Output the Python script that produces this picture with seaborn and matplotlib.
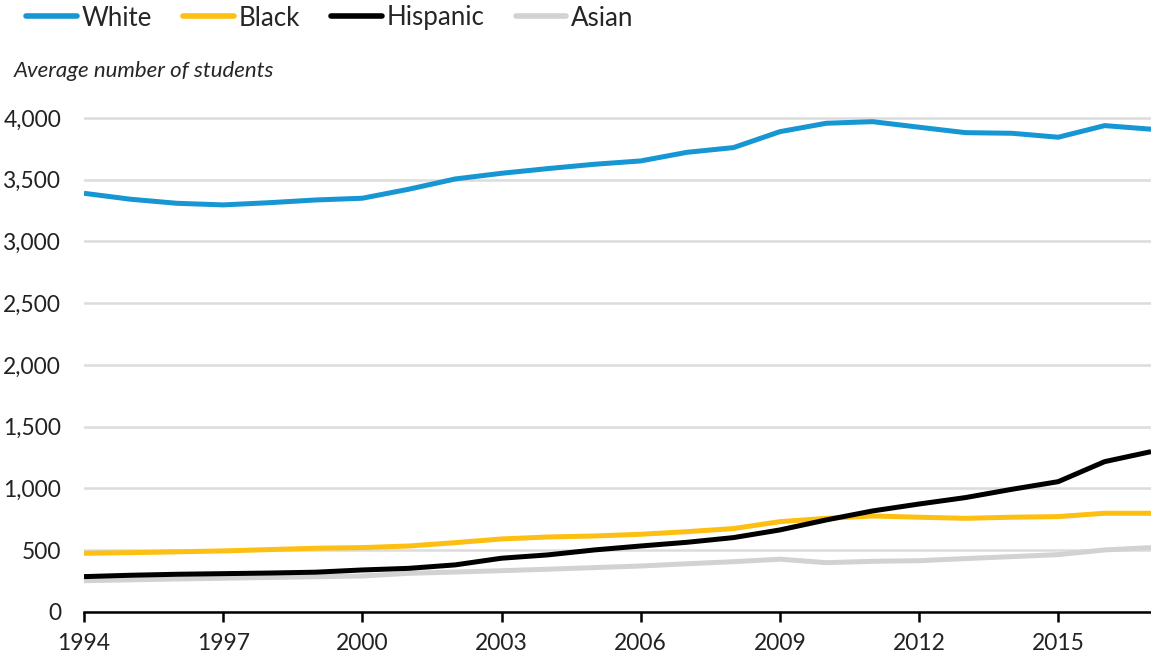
import pandas as pd
import matplotlib.pyplot as plt
import matplotlib.ticker as mticker
import seaborn as sns

# Average number of students by race/ethnicity, 1994-2017
years = list(range(1994, 2018))
white = [3390, 3342, 3309, 3296, 3314, 3336, 3350, 3423, 3506, 3552, 3590, 3625,
         3652, 3722, 3760, 3889, 3957, 3970, 3925, 3881, 3876, 3844, 3938, 3909]
black = [475, 480, 487, 494, 505, 516, 521, 534, 561, 591, 607, 615,
         629, 650, 675, 731, 758, 777, 767, 758, 767, 772, 799, 799]
hispanic = [286, 297, 305, 310, 315, 322, 340, 353, 381, 435, 462, 502,
            534, 564, 602, 664, 745, 818, 874, 926, 993, 1055, 1217, 1298]
asian = [253, 260, 267, 273, 279, 285, 291, 313, 323, 334, 346, 359,
         372, 390, 407, 427, 399, 410, 415, 432, 448, 464, 502, 521]

groups = ['White', 'Black', 'Hispanic', 'Asian']
colores = {'White': '#1696d2', 'Black': '#fdbf11', 'Hispanic': '#000000', 'Asian': '#d2d2d2'}

df = pd.DataFrame({'Year': years, 'White': white, 'Black': black,
                   'Hispanic': hispanic, 'Asian': asian})
df_long = df.melt(id_vars='Year', var_name='Group', value_name='Students')

sns.set_style('white')
plt.rcParams['font.family'] = ['Lato', 'DejaVu Sans']

fig = plt.figure(figsize=(11.51, 6.58), dpi=100)
ax = fig.add_axes([0.073, 0.070, 0.927, 0.7695])

sns.lineplot(data=df_long, x='Year', y='Students', hue='Group', hue_order=groups,
             palette=colores, linewidth=3.6, ax=ax)

# Asian line sits under the others
for line, z in zip(ax.get_lines()[:4], [3, 4, 5, 2]):
    line.set_zorder(z)
    line.set_solid_capstyle('butt')

handles, labels = ax.get_legend_handles_labels()
ax.get_legend().remove()
leg = fig.legend(handles, labels, loc='center left', bbox_to_anchor=(0.023, 1 - 18 / 658),
                 ncol=4, frameon=False, fontsize=18.6, handlelength=1.95, handletextpad=0.2,
                 columnspacing=1.2, borderaxespad=0, borderpad=0)
for h in leg.legend_handles:
    h.set_linewidth(4)
    h.set_solid_capstyle('round')

fig.text(0.012, 1 - 71 / 658, 'Average number of students', fontsize=16,
         style='italic', va='center', ha='left')

ax.set_xlim(1994, 2017)
ax.set_ylim(0, 4100)
ax.set_xticks(list(range(1994, 2016, 3)))
ax.set_yticks(list(range(0, 4001, 500)))
ax.yaxis.set_major_formatter(mticker.FuncFormatter(lambda v, p: f'{int(v):,}'))
ax.set_xlabel('')
ax.set_ylabel('')

ax.grid(axis='y', color='#dcdcdc', linewidth=1.8)
ax.grid(axis='x', visible=False)
ax.set_axisbelow(True)
for s in ['top', 'right', 'left']:
    ax.spines[s].set_visible(False)
ax.spines['bottom'].set_color('black')
ax.spines['bottom'].set_linewidth(1.8)
ax.spines['bottom'].set_zorder(6)

ax.tick_params(axis='x', direction='out', length=7, width=1.8, color='black',
               labelsize=16.4, pad=8, bottom=True)
ax.tick_params(axis='y', length=0, labelsize=16.4, pad=16.4)
for t in ax.get_yticklabels() + ax.get_xticklabels():
    t.set_color('#222222')

fig.savefig('out.png', dpi=100)
